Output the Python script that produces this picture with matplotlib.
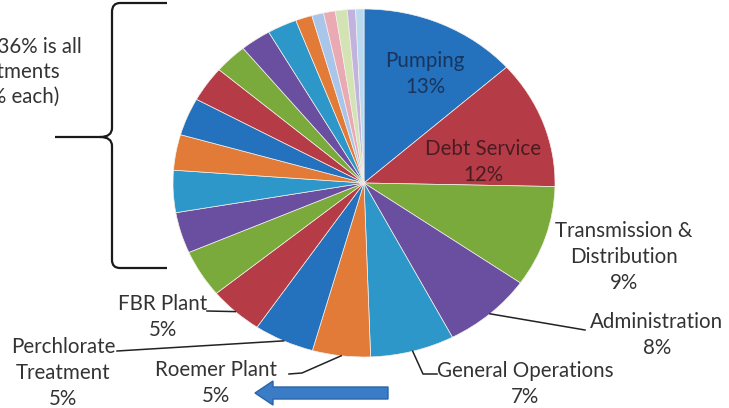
import numpy as np
import matplotlib.pyplot as plt
from matplotlib.path import Path
from matplotlib.patches import PathPatch, FancyArrow
from matplotlib import rcParams

rcParams['font.family'] = ['Lato', 'DejaVu Sans']

# Budget share by department (percent), clockwise from 12 o'clock
departments = ['Pumping', 'Debt Service', 'Transmission & Distribution',
               'Administration', 'General Operations', 'Roemer Plant',
               'Perchlorate Treatment', 'FBR Plant']
dept_share = [13.4, 11.9, 9.4, 7.6, 7.1, 4.9, 5.1, 4.6]
other_share = [4.4, 3.8, 3.9, 3.3, 3.5, 3.3, 2.8, 2.6, 2.5,
               1.4, 1.0, 1.0, 1.0, 0.7, 0.7]

shares = dept_share + other_share
other_total = sum(other_share)

base = ['#2471bd', '#b53b47', '#7aaa3c', '#6a4fa0', '#2c97c8', '#e27b38']
pale = ['#a9c5ea', '#e9aab3', '#d3e3b4', '#c2b3de', '#b9daee']
colors = [base[i % 6] for i in range(len(shares) - len(pale))] + pale

# pie geometry in pixels (slightly squashed ellipse)
W, H = 729, 408
cx, cy, rx, ry = 364, 183, 191, 174
FS = 14.8

fig = plt.figure(figsize=(W / 100, H / 100), dpi=100)
ax_pie = fig.add_axes([(cx - rx) / W, (H - cy - ry) / H, 2 * rx / W, 2 * ry / H])
wedges, _ = ax_pie.pie(shares, colors=colors, startangle=90, counterclock=False,
                       wedgeprops=dict(edgecolor='#f4f0ea', linewidth=0.5))
ax_pie.set_aspect('auto')
ax_pie.set_xlim(-1, 1)
ax_pie.set_ylim(-1, 1)
ax_pie.axis('off')

# overlay in pixel coordinates for labels, leaders and decorations
ax = fig.add_axes([0, 0, 1, 1], zorder=5)
ax.set_xlim(0, W)
ax.set_ylim(H, 0)
ax.axis('off')
ax.patch.set_alpha(0)


def edge_point(w):
    t = np.deg2rad((w.theta1 + w.theta2) / 2)
    return cx + rx * np.cos(t), cy - ry * np.sin(t)


wrapped = {'Transmission & Distribution': 'Transmission &\nDistribution',
           'Perchlorate Treatment': 'Perchlorate\nTreatment'}
label_pos = {'Pumping': (425, 74), 'Debt Service': (483, 162),
             'Transmission & Distribution': (624, 257),
             'Administration': (657, 335), 'General Operations': (525, 384),
             'Roemer Plant': (216, 383), 'Perchlorate Treatment': (63, 373),
             'FBR Plant': (163, 317)}
text_color = {'Pumping': '#17355f', 'Debt Service': '#4a1c22'}
leader = {'Administration': [(585, 330)],
          'General Operations': [(423, 374), (437, 374)],
          'Roemer Plant': [(302, 373), (289, 374)],
          'Perchlorate Treatment': [(117, 351)],
          'FBR Plant': [(207, 311)]}

for name, val, w in zip(departments, dept_share, wedges):
    txt = f"{wrapped.get(name, name)}\n{val:.0f}%"
    x, y = label_pos[name]
    ax.text(x, y, txt, ha='center', va='center', multialignment='center',
            fontsize=FS, color=text_color.get(name, '#333333'), linespacing=1.35)
    if name in leader:
        pts = [edge_point(w)] + leader[name]
        ax.plot([p[0] for p in pts], [p[1] for p in pts], color='#222222', lw=1.1)

# note about the remaining small departments (runs off the left edge)
note = [f"The remaining {other_total:.0f}% is all", "other departments",
        "(less than 5% each)"]
for line, (x, y) in zip(note, [(82, 47), (60, 72), (59, 97)]):
    ax.text(x, y, line, ha='right', va='center', fontsize=FS, color='#333333')

# curly brace spanning the small slices
brace = Path([(167, 3), (120, 3), (112, 3), (112, 12), (112, 128), (112, 137),
              (100, 137), (55, 137), (100, 137), (112, 137), (112, 146),
              (112, 260), (112, 268), (120, 268), (167, 268)],
             [Path.MOVETO, Path.LINETO, Path.CURVE3, Path.CURVE3, Path.LINETO,
              Path.CURVE3, Path.CURVE3, Path.LINETO, Path.MOVETO, Path.CURVE3,
              Path.CURVE3, Path.LINETO, Path.CURVE3, Path.CURVE3, Path.LINETO])
ax.add_patch(PathPatch(brace, fill=False, edgecolor='#1a1a1a', lw=1.6))

# blue arrow pointing left under the pie
ax.add_patch(FancyArrow(388, 393, -133, 0, width=12, head_width=24, head_length=18,
                        length_includes_head=True, facecolor='#3a7dc6',
                        edgecolor='#2a64a8', lw=1))

fig.savefig('out.png', dpi=100)
